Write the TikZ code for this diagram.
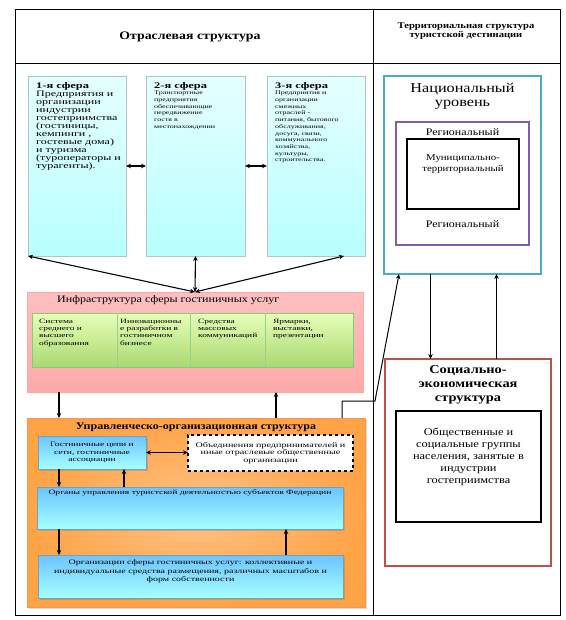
\documentclass[tikz,border=0pt]{standalone}
\usepackage{fontspec}
\setmainfont{Liberation Serif}[FakeStretch=1.2]
\newfontfamily\wf{Liberation Serif}[FakeStretch=1.45]
\usetikzlibrary{arrows.meta,calc,shadows}
\definecolor{natc}{HTML}{4BACC6}
\definecolor{purc}{HTML}{7F5FA8}
\definecolor{socc}{HTML}{C0504D}
\tikzset{
  rbox/.style={anchor=north west, inner sep=0pt, outer sep=0pt},
  sphere/.style={rbox, draw=cyan!25!gray!60, top color=white!90!cyan, bottom color=cyan!28!white, line width=0.6pt},
  bluebox/.style={rbox, draw=cyan!40!gray, top color=cyan!60!blue!58!white, bottom color=cyan!35!white, line width=0.6pt, drop shadow={opacity=0.35, shadow xshift=1.5pt, shadow yshift=-1.5pt}},
  txt/.style={inner sep=0pt, align=left, anchor=north west},
  arr/.style={line width=1.1pt, -{Stealth[length=5pt,width=4.5pt]}},
  darr/.style={line width=1.1pt, {Stealth[length=5pt,width=4.5pt]}-{Stealth[length=5pt,width=4.5pt]}},
}
\newcommand{\sphhead}[1]{{\wf\bfseries\fontsize{8.6}{8}\selectfont #1}}
\begin{document}
\begin{tikzpicture}[x=1pt,y=-1pt]
\useasboundingbox (0,0) rectangle (565,620);
% frame
\draw[line width=0.8pt] (15,9) rectangle (560,615);
\draw[line width=0.8pt] (373,9) -- (373,615);
\draw[line width=0.8pt] (15,63) -- (560,63);
\node[font=\bfseries\fontsize{11.5}{13}\selectfont] (h1) at (190,37) {Отраслевая структура};
\node[font=\bfseries\fontsize{8.8}{8.5}\selectfont, align=center] (h2) at (466,31) {Территориальная структура\\туристской дестинации};

% spheres
\node[sphere, minimum width=98pt, minimum height=180pt] (s1) at (28,76) {};
\node[sphere, minimum width=99pt, minimum height=180pt] (s2) at (146,76) {};
\node[sphere, minimum width=98pt, minimum height=180pt] (s3) at (267,76) {};
\node[txt, font=\wf\fontsize{8.3}{8}\selectfont] (t1) at ($(s1.north west)+(8,6)$) {\sphhead{1-я сфера}\\Предприятия и\\организации\\индустрии\\гостеприимства\\(гостиницы,\\кемпинги ,\\гостевые дома)\\и туризма\\(туроператоры и\\турагенты).};
\node[txt, font=\wf\fontsize{5.5}{6.7}\selectfont] (t2) at ($(s2.north west)+(8,6)$) {\sphhead{2-я сфера}\\Транспортные\\предприятия\\обеспечивающие\\передвижение\\гостя в\\местонахождении};
\node[txt, font=\wf\fontsize{5.5}{6.7}\selectfont] (t3) at ($(s3.north west)+(8,6)$) {\sphhead{3-я сфера}\\Предприятия и\\организации\\смежных\\отраслей -\\питания, бытового\\обслуживания,\\досуга, связи,\\коммунального\\хозяйства,\\культуры,\\строительства.};
\draw[darr] (s1.east) -- (s2.west);
\draw[darr] (s2.east) -- (s3.west);

% infrastructure
\node[rbox, minimum width=336pt, minimum height=100pt, draw=red!35!white, top color=red!25!white, bottom color=red!34!white, line width=0.6pt] (inf) at (27,292) {};
\node[anchor=west, inner sep=0pt, font=\fontsize{10}{10}\selectfont] (inft) at ($(inf.north west)+(30,8)$) {Инфраструктура сферы гостиничных услуг};
\node[rbox, minimum width=321pt, minimum height=54pt, draw=green!45!gray!70, top color=green!35!yellow!28!white, bottom color=green!45!yellow!48!white!85!black, line width=0.6pt] (gr) at (32,313) {};
\draw[green!40!gray!60, line width=0.4pt] ($(gr.north west)+(85,0)$) -- ($(gr.south west)+(85,0)$);
\draw[green!40!gray!60, line width=0.4pt] ($(gr.north west)+(158,0)$) -- ($(gr.south west)+(158,0)$);
\draw[green!40!gray!60, line width=0.4pt] ($(gr.north west)+(233,0)$) -- ($(gr.south west)+(233,0)$);
\node[txt, font=\wf\fontsize{6.5}{7.2}\selectfont] (g1) at ($(gr.north west)+(7,6)$) {Система\\среднего и\\высшего\\образования};
\node[txt, font=\wf\fontsize{6.5}{7.2}\selectfont] (g2) at ($(gr.north west)+(88,6)$) {Инновационны\\е разработки в\\гостиничном\\бизнесе};
\node[txt, font=\wf\fontsize{6.5}{7.2}\selectfont] (g3) at ($(gr.north west)+(166,6)$) {Средства\\массовых\\коммуникаций};
\node[txt, font=\wf\fontsize{6.5}{7.2}\selectfont] (g4) at ($(gr.north west)+(241,6)$) {Ярмарки,\\выставки,\\презентации};

\draw[darr] (inf.north) -- (s1.south west);
\draw[darr] (inf.north) -- (s2.south);
\draw[darr] (inf.north) -- ([xshift=-21pt]s3.south east);

% management
\node[rbox, minimum width=338pt, minimum height=189pt, draw=orange!80!red!70, inner color=orange!48!white, outer color=orange!72!white, line width=0.6pt, drop shadow={opacity=0.3, shadow xshift=2pt, shadow yshift=-2pt}] (org) at (27,418) {};
\node[font=\bfseries\fontsize{10}{11}\selectfont, inner sep=0pt] (orgt) at ($(org.north)+(0,9)$) {Управленческо-организационная структура};
\node[bluebox, minimum width=108pt, minimum height=33pt] (b1) at (38,436) {};
\node[font=\wf\fontsize{6.6}{7.4}\selectfont, align=center, inner sep=0pt] (b1t) at (b1.center) {Гостиничные цепи и\\сети, гостиничные\\ассоциации};
\node[rbox, minimum width=165pt, minimum height=36pt, draw, dashed, line width=1.6pt, fill=white] (d) at (188,435) {};
\node[font=\wf\fontsize{7}{7.6}\selectfont, align=center, inner sep=0pt] (dt) at (d.center) {Объединения предпринимателей и\\иные отраслевые общественные\\организации};
\node[bluebox, minimum width=306pt, minimum height=42pt] (b2) at (37,487) {};
\node[font=\wf\fontsize{6.6}{7.4}\selectfont, inner sep=0pt, anchor=north] (b2t) at ($(b2.north)+(0,3)$) {Органы управления туристской деятельностью субъектов Федерации};
\node[bluebox, minimum width=305pt, minimum height=43pt] (b3) at (38,555) {};
\node[font=\wf\fontsize{6.9}{8.5}\selectfont, align=center, inner sep=0pt, anchor=north] (b3t) at ($(b3.north)+(0,5)$) {Организации сферы гостиничных услуг: коллективные и\\индивидуальные средства размещения, различных масштабов и\\форм собственности};

\draw[arr] ([xshift=32pt]inf.south west) -- ([xshift=32pt]inf.south west |- org.north);
\draw[arr] ([xshift=249pt]org.north west) -- ([xshift=249pt]org.north west |- inf.south);
\draw[darr] (b1.east) -- (b1.east -| d.west);
\draw[arr] ([xshift=21pt]b1.south west) -- ([xshift=21pt]b1.south west |- b2.north);
\draw[arr] ([xshift=86pt]b1.south west |- b2.north) -- ([xshift=86pt]b1.south west);
\draw[arr] ([xshift=22pt]b2.south west) -- ([xshift=22pt]b2.south west |- b3.north);
\draw[arr] ([xshift=249pt]b2.south west |- b3.north) -- ([xshift=249pt]b2.south west);

% territorial
\node[rbox, minimum width=157pt, minimum height=198pt, draw=natc, line width=2pt] (nat) at (384,76) {};
\node[font=\fontsize{13.5}{14}\selectfont, align=center, inner sep=0pt, anchor=north] (natt) at ($(nat.north)+(0,7)$) {Национальный\\уровень};
\node[rbox, minimum width=133pt, minimum height=123pt, draw=purc, line width=2pt] (reg) at (396,122) {};
\node[font=\fontsize{10}{10}\selectfont, inner sep=0pt] (regt1) at ($(reg.north)+(0,10)$) {Региональный};
\node[font=\fontsize{10}{10}\selectfont, inner sep=0pt] (regt2) at ($(reg.south)+(0,-21)$) {Региональный};
\node[rbox, minimum width=112pt, minimum height=70pt, draw, line width=2.4pt] (mun) at (407,139) {};
\node[font=\fontsize{9}{11}\selectfont, align=center, inner sep=0pt, anchor=north] (munt) at ($(mun.north)+(0,15)$) {Муниципально-\\территориальный};

\node[rbox, minimum width=166pt, minimum height=207pt, draw=socc, line width=2pt] (soc) at (385,359) {};
\node[font=\bfseries\fontsize{12}{14}\selectfont, align=center, inner sep=0pt, anchor=north] (soct) at ($(soc.north)+(0,6)$) {Социально-\\экономическая\\структура};
\node[rbox, minimum width=145pt, minimum height=111pt, draw, line width=2.4pt] (grp) at (396,411) {};
\node[font=\fontsize{10.3}{12}\selectfont, align=center, inner sep=0pt, anchor=north] (grpt) at ($(grp.north)+(0,17)$) {Общественные и\\социальные группы\\населения, занятые в\\индустрии\\гостеприимства};

\draw[arr, line width=1pt] ([xshift=-32pt]nat.south) -- ([xshift=-32pt]nat.south |- soc.north);
\draw[arr, line width=1pt] ([xshift=34pt]nat.south |- soc.north) -- ([xshift=34pt]nat.south);
\coordinate (bend) at (375,401);
\draw[arr, line width=1pt] ([xshift=-23pt]org.north east) |- (bend) -- ($(nat.south west)+(15,0)$);
\end{tikzpicture}
\end{document}
